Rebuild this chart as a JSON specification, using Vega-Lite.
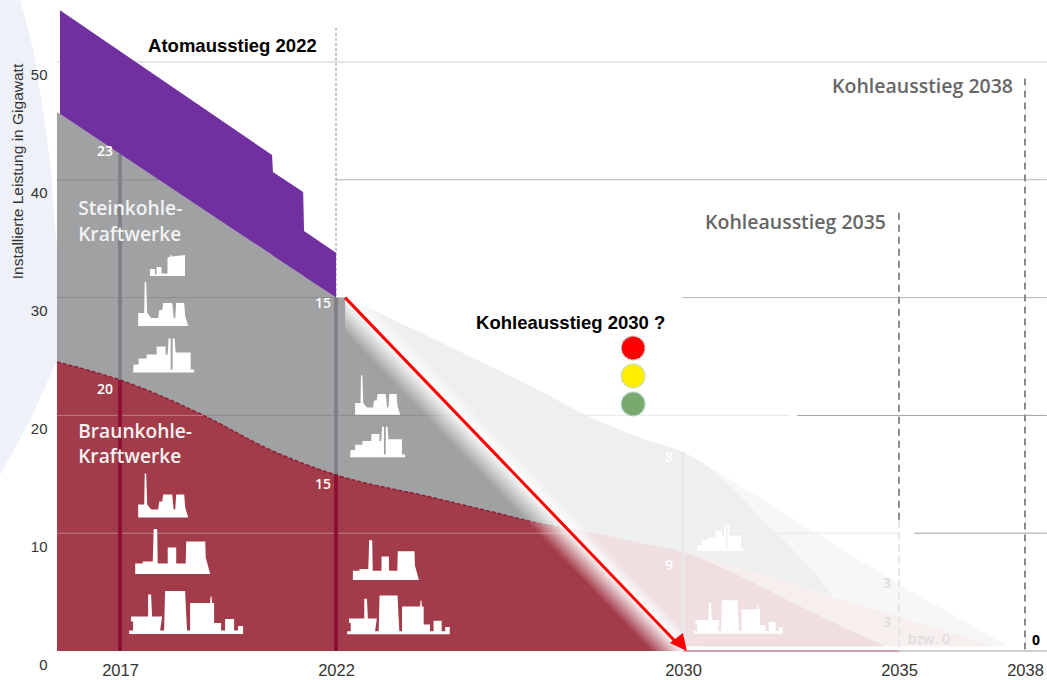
{
"$schema":"https://vega.github.io/schema/vega-lite/v6.json",
"width":1047,"height":680,"autosize":{"type":"none"},"padding":0,"background":"#ffffff",
"config":{"view":{"stroke":null}},
"resolve":{"scale":{"color":"independent","fill":"independent"}},
"datasets":{
"red":[{"yr":2015.54,"gw":24.53},{"yr":2017,"gw":23},{"yr":2019.01,"gw":19.86},{"yr":2020.4,"gw":17.2},{"yr":2022,"gw":14.94},{"yr":2024.17,"gw":13.07},{"yr":2025.71,"gw":11.71},{"yr":2026.86,"gw":10.7},{"yr":2027.3,"gw":10.44},{"yr":2030.05,"gw":0}],
"square":[{"yr":2022.21,"gw":30,"gw2":0},{"yr":2030.05,"gw":30,"gw2":0}]
},
"data":{"values":[{}]},
"encoding":{
"x":{"field":"yr","type":"quantitative","title":null,"scale":{"domain":[2014.22,2017,2022,2030,2035,2038,2038.524],"range":[0,120,336,683,899,1025,1047],"clamp":false,"nice":false,"zero":false},
"axis":{"zindex":1,"values":[2017,2022,2030,2035,2038],"format":"d","grid":false,"ticks":false,"domain":false,"offset":-20,"labelPadding":2,"labelFont":"Liberation Sans","labelFontSize":16.5,"labelColor":"#333333","labelOverlap":false,"labelFlush":false,"labelBound":false}},
"y":{"field":"gw","type":"quantitative","scale":{"domain":[-2.46,55.26],"range":[680,0],"nice":false,"zero":false},
"axis":{"zindex":1,"values":[0,10,20,30,40,50],"format":"d","grid":false,"ticks":false,"domain":false,"offset":-47,"labelPadding":0,"labelOffset":13,"labelFont":"Liberation Sans","labelFontSize":15,"labelColor":"#333333","labelOverlap":false,"labelBound":false,"labelFlush":false,
"title":"Installierte Leistung in Gigawatt","titleFont":"Liberation Sans","titleFontSize":15.5,"titleFontWeight":"normal","titleColor":"#333333","titleX":-30,"titleY":171,"titleAngle":-90,"titleAlign":"center","titleBaseline":"middle"}}
},
"layer":[
{"data":{"values":[{"gw":55.26,"yr":2014.69,"yr2":2014.22},{"gw":51.02,"yr":2014.99,"yr2":2014.22},{"gw":45.9,"yr":2015.22,"yr2":2014.22},{"gw":40.8,"yr":2015.4,"yr2":2014.22},{"gw":34,"yr":2015.54,"yr2":2014.22},{"gw":24.7,"yr":2015.54,"yr2":2014.22},{"gw":19.6,"yr":2014.92,"yr2":2014.22},{"gw":14.94,"yr":2014.22,"yr2":2014.22}]},
"mark":{"type":"area","orient":"horizontal","color":"#eef1f7"},"encoding":{"x2":{"field":"yr2"}}},
{"data":{"values":[{"yr":2015.54,"gw":45.75},{"yr":2022,"gw":30},{"yr":2022.21,"gw":30},{"yr":2030.05,"gw":0}]},"mark":{"type":"area","color":"#a0a1a3"},"encoding":{"y2":{"datum":0}}},
{"data":{"name":"red"},"mark":{"type":"area","color":"#a33c4a","interpolate":"monotone"},"encoding":{"y2":{"datum":0}}},
{"data":{"values":[{"gw":40,"yr":2015.54,"yr2":2017.9,"tone":"onGray"},{"gw":30,"yr":2015.54,"yr2":2022,"tone":"onGray"},{"gw":20,"yr":2015.54,"yr2":2019.01,"tone":"onRed"},{"gw":20,"yr":2019.01,"yr2":2027,"tone":"onGray"},{"gw":10,"yr":2015.54,"yr2":2030,"tone":"onRed"}]},
"mark":{"type":"rule","strokeWidth":1},"encoding":{"x2":{"field":"yr2"},"color":{"field":"tone","type":"nominal","legend":null,"scale":{"domain":["onGray","onRed"],"range":["#8a8b8d","#bb7d87"]}}}},
{"data":{"values":[{"yr":2017,"gw":23,"gw2":42.2,"tone":"g"},{"yr":2022,"gw":15,"gw2":30,"tone":"g"},{"yr":2017,"gw":0,"gw2":23,"tone":"r"},{"yr":2022,"gw":0,"gw2":15,"tone":"r"}]},
"mark":{"type":"rule","strokeWidth":4},"encoding":{"y2":{"field":"gw2"},"color":{"field":"tone","type":"nominal","legend":null,"scale":{"domain":["g","r"],"range":["#808184","#8f1134"]}}}},
{"data":{"name":"red"},"transform":[{"filter":"datum.yr<2027.4"}],"mark":{"type":"line","color":"#8b1f35","strokeWidth":1.5,"strokeDash":[4,2],"interpolate":"monotone"}},
{"data":{"name":"square"},"mark":{"type":"area","color":{"gradient":"linear","x1":0,"y1":1,"x2":1,"y2":0,"stops":[{"offset":0,"color":"rgba(255,255,255,0)"},{"offset":0.45,"color":"rgba(255,255,255,0)"},{"offset":0.5,"color":"rgba(255,255,255,1)"},{"offset":1,"color":"rgba(255,255,255,1)"}]}},"encoding":{"y2":{"field":"gw2"}}},
{"data":{"values":[{"yr":2030.46,"gw":15.96},{"yr":2035.02,"gw":5.6},{"yr":2037.57,"gw":0.5}]},"mark":{"type":"area","color":"#f7f7f7"},"encoding":{"y2":{"datum":0.4}}},
{"data":{"values":[{"yr":2030,"gw":8.4},{"yr":2031.78,"gw":6.62},{"yr":2033.47,"gw":4.58},{"yr":2035.02,"gw":2.89},{"yr":2037.2,"gw":0.5}]},"mark":{"type":"area","color":"#f7eeee","interpolate":"monotone"},"encoding":{"y2":{"datum":0.4}}},
{"data":{"values":[{"yr":2022.21,"gw":30,"gw2":30},{"yr":2024.93,"gw":25.3,"gw2":19.6},{"yr":2027.23,"gw":21.05,"gw2":10.8},{"yr":2027.28,"gw":20.95,"gw2":10.53},{"yr":2029.17,"gw":17.9,"gw2":9.08},{"yr":2030,"gw":16.9,"gw2":8.4},{"yr":2030.46,"gw":15.96,"gw2":7.9},{"yr":2031.02,"gw":14.26,"gw2":7.3},{"yr":2031.78,"gw":11.37,"gw2":6.62},{"yr":2032.55,"gw":8.57,"gw2":5.7},{"yr":2033.33,"gw":5.35,"gw2":4.75},{"yr":2033.47,"gw":4.58,"gw2":4.58}]},"mark":{"type":"area","color":"#eef0ef","interpolate":"monotone"},"encoding":{"y2":{"field":"gw2"}}},
{"data":{"values":[{"yr":2027.28,"gw":10.53,"gw2":10.53},{"yr":2029.17,"gw":9.08,"gw2":3.37},{"yr":2030,"gw":8.4,"gw2":0.4},{"yr":2031.02,"gw":6.88,"gw2":0.4},{"yr":2032.55,"gw":4.07,"gw2":0.4},{"yr":2033.7,"gw":2.04,"gw2":0.4},{"yr":2034.63,"gw":0.5,"gw2":0.4}]},"mark":{"type":"area","color":"#efdfe1","interpolate":"monotone"},"encoding":{"y2":{"field":"gw2"}}},
{"data":{"name":"square"},"mark":{"type":"area","color":{"gradient":"linear","x1":0,"y1":1,"x2":1,"y2":0,"stops":[{"offset":0,"color":"rgba(255,255,255,0)"},{"offset":0.499,"color":"rgba(255,255,255,0)"},{"offset":0.5,"color":"rgba(255,255,255,1)"},{"offset":0.53,"color":"rgba(255,255,255,0)"},{"offset":1,"color":"rgba(255,255,255,0)"}]}},"encoding":{"y2":{"field":"gw2"}}},
{"data":{"values":[{"gw":50,"yr":2015.54,"yr2":2038.52,"tone":"top"},{"gw":40,"yr":2022,"yr2":2038.52,"tone":"mid"},{"gw":30,"yr":2029.98,"yr2":2038.52,"tone":"mid"},{"gw":20,"yr":2032.64,"yr2":2038.52,"tone":"low"},{"gw":10,"yr":2035.37,"yr2":2038.52,"tone":"low"},{"gw":20,"yr":2027.2,"yr2":2032.48,"tone":"faint"},{"gw":10,"yr":2028.6,"yr2":2035.02,"tone":"faint"},{"gw":0,"yr":2030,"yr2":2035,"tone":"base"},{"gw":0,"yr":2035,"yr2":2038.52,"tone":"low"}]},
"mark":{"type":"rule","strokeWidth":1},"encoding":{"x2":{"field":"yr2"},"color":{"field":"tone","type":"nominal","legend":null,"scale":{"domain":["top","mid","low","faint","base"],"range":["#cfcfcf","#b5b5b5","#a0a0a0","#e9e9e9","#a5475a"]}}}},
{"data":{"values":[{"yr":2022,"gw":52.9,"gw2":30}]},"mark":{"type":"rule","strokeWidth":1,"color":"#8a8a8a","strokeDash":[3,2]},"encoding":{"y2":{"field":"gw2"}}},
{"data":{"values":[{"yr":2030,"gw":16.9,"gw2":0}]},"mark":{"type":"rule","strokeWidth":3,"color":"#e8e9e9"},"encoding":{"y2":{"field":"gw2"}}},
{"data":{"values":[{"yr":2035,"gw":37.2,"gw2":11.1},{"yr":2038,"gw":48.6,"gw2":0}]},"mark":{"type":"rule","strokeWidth":2,"color":"#8a8a8a","strokeDash":[7,5]},"encoding":{"y2":{"field":"gw2"}}},
{"data":{"values":[{"yr":2035,"gw":11.1,"gw2":0}]},"mark":{"type":"rule","strokeWidth":2,"color":"#e6e6e6","strokeDash":[7,5]},"encoding":{"y2":{"field":"gw2"}}},
{"data":{"values":[{"yr":2015.61,"gw":54.4,"gw2":45.58},{"yr":2020.52,"gw":42.1,"gw2":33.61},{"yr":2020.54,"gw":40.66,"gw2":33.56},{"yr":2021.24,"gw":38.96,"gw2":31.86},{"yr":2021.26,"gw":35.65,"gw2":31.8},{"yr":2022,"gw":33.8,"gw2":30}]},"mark":{"type":"area","color":"#7030a0"},"encoding":{"y2":{"field":"gw2"}}},
{"data":{"values":[{"yr":2018.1,"gw":32.72}]},"mark":{"type":"point","filled":true,"opacity":1,"color":"#ffffff","size":4,"shape":"M-17.5 10.5L-17.5 3.5L-12.5 3.5L-12.5 9L-11 9L-11 1.5L-6 1.5L-6 8L0 8L0 -8L3 -9L3 -10.5L4 -10.5L4 -9L17.5 -10.5L17.5 10.5Z"}},
{"data":{"values":[{"yr":2018.0,"gw":29.46},{"yr":2018.0,"gw":13.2}]},"mark":{"type":"point","filled":true,"opacity":1,"color":"#ffffff","size":4,"shape":"M-25 22L-25 9L-19 9L-18.5 -22L-17 -22L-16 9L-12 14L-5 14L-4 6L-1 6L0 -1L9 -1L10.5 14L12 14L13 -1L21 -1L22 12L25 22Z"}},
{"data":{"values":[{"yr":2022.96,"gw":21.73}]},"mark":{"type":"point","filled":true,"opacity":1,"color":"#ffffff","size":3.24,"shape":"M-25 22L-25 9L-19 9L-18.5 -22L-17 -22L-16 9L-12 14L-5 14L-4 6L-1 6L0 -1L9 -1L10.5 14L12 14L13 -1L21 -1L22 12L25 22Z"}},
{"data":{"values":[{"yr":2018.01,"gw":25.08}]},"mark":{"type":"point","filled":true,"opacity":1,"color":"#ffffff","size":4,"shape":"M-30.5 17L-30 9L-25 9L-25 3L-17 3L-17 -1L-7 -1L-7 -9L2 -9L2 -1L4 -1L5 -17L7 -17L7 14L9 14L9 -17L11 -17L12 -3L27 -3L27 14L30.5 14L30.5 17Z"}},
{"data":{"values":[{"yr":2022.96,"gw":17.74}]},"mark":{"type":"point","filled":true,"opacity":1,"color":"#ffffff","size":3.24,"shape":"M-30.5 17L-30 9L-25 9L-25 3L-17 3L-17 -1L-7 -1L-7 -9L2 -9L2 -1L4 -1L5 -17L7 -17L7 14L9 14L9 -17L11 -17L12 -3L27 -3L27 14L30.5 14L30.5 17Z"}},
{"data":{"values":[{"yr":2030.87,"gw":9.59}]},"mark":{"type":"point","filled":true,"opacity":1,"color":"#ffffff","size":2.31,"shape":"M-30.5 17L-30 9L-25 9L-25 3L-17 3L-17 -1L-7 -1L-7 -9L2 -9L2 -1L4 -1L5 -17L7 -17L7 14L9 14L9 -17L11 -17L12 -3L27 -3L27 14L30.5 14L30.5 17Z"}},
{"data":{"values":[{"yr":2018.22,"gw":8.36}]},"mark":{"type":"point","filled":true,"opacity":1,"color":"#ffffff","size":4,"shape":"M-37.5 21.5L-37.5 11L-30 11L-30 9L-20 9L-19 -23.5L-15.5 -23.5L-15 11L-5 11L-5 -5L3.5 -5L3.5 11L13 11L13.5 -11L32.5 -11L33 5L37.5 21.5Z"}},
{"data":{"values":[{"yr":2023.15,"gw":7.64}]},"mark":{"type":"point","filled":true,"opacity":1,"color":"#ffffff","size":3.1,"shape":"M-37.5 21.5L-37.5 11L-30 11L-30 9L-20 9L-19 -23.5L-15.5 -23.5L-15 11L-5 11L-5 -5L3.5 -5L3.5 11L13 11L13.5 -11L32.5 -11L33 5L37.5 21.5Z"}},
{"data":{"values":[{"yr":2018.53,"gw":3.27}]},"mark":{"type":"point","filled":true,"opacity":1,"color":"#ffffff","size":4,"shape":"M-57 21.5L-57 18L-53 18L-53 9L-55 9L-55 4L-38 4L-38 -18L-35 -18L-34 4L-24 4L-26 18L-22 18L-21 -21.5L-1 -21.5L0 0L1 18L4 18L4 -9.5L24 -9.5L24.5 -16L25.5 -16L26 -9.5L28 -9.5L28 10.5L35 10.5L35 18L39 18L39 6.5L48 6.5L48 18L52 18L52 13.5L57 13.5L57 21.5Z"}},
{"data":{"values":[{"yr":2023.44,"gw":3.06}]},"mark":{"type":"point","filled":true,"opacity":1,"color":"#ffffff","size":3.24,"shape":"M-57 21.5L-57 18L-53 18L-53 9L-55 9L-55 4L-38 4L-38 -18L-35 -18L-34 4L-24 4L-26 18L-22 18L-21 -21.5L-1 -21.5L0 0L1 18L4 18L4 -9.5L24 -9.5L24.5 -16L25.5 -16L26 -9.5L28 -9.5L28 10.5L35 10.5L35 18L39 18L39 6.5L48 6.5L48 18L52 18L52 13.5L57 13.5L57 21.5Z"}},
{"data":{"values":[{"yr":2031.28,"gw":2.89}]},"mark":{"type":"point","filled":true,"opacity":1,"color":"#ffffff","size":2.43,"shape":"M-57 21.5L-57 18L-53 18L-53 9L-55 9L-55 4L-38 4L-38 -18L-35 -18L-34 4L-24 4L-26 18L-22 18L-21 -21.5L-1 -21.5L0 0L1 18L4 18L4 -9.5L24 -9.5L24.5 -16L25.5 -16L26 -9.5L28 -9.5L28 10.5L35 10.5L35 18L39 18L39 6.5L48 6.5L48 18L52 18L52 13.5L57 13.5L57 21.5Z"}},
{"data":{"values":[{"yr":2022.21,"gw":30},{"yr":2029.88,"gw":0.6}]},"mark":{"type":"line","color":"#ff0000","strokeWidth":3}},
{"data":{"values":[{"yr":2030.09,"gw":0}]},"mark":{"type":"point","filled":true,"opacity":1,"color":"#ff0000","size":4,"shape":"M0 0L-17 -8L-4 -18Z"}},
{"data":{"values":[{"yr":2028.85,"gw":25.72,"light":"rot"},{"yr":2028.85,"gw":23.34,"light":"gelb"},{"yr":2028.85,"gw":20.97,"light":"gruen"}]},"mark":{"type":"point","filled":true,"opacity":1,"size":570,"stroke":"#bcdcd8","strokeWidth":1.5,"strokeDash":[2,1]},"encoding":{"color":{"field":"light","type":"nominal","legend":null,"scale":{"domain":["rot","gelb","gruen"],"range":["#ff0000","#ffee00","#7aa96d"]}}}},
{"data":{"values":[{"yr":2017.65,"gw":51.36,"t":"Atomausstieg 2022"},{"yr":2025.23,"gw":27.84,"t":"Kohleausstieg 2030 ?"}]},"mark":{"type":"text","align":"left","baseline":"middle","font":"Liberation Sans","fontWeight":"bold","fontSize":18.5,"color":"#000000"},"encoding":{"text":{"field":"t"}}},
{"data":{"values":[{"yr":2033.45,"gw":47.88,"t":"Kohleausstieg 2038"},{"yr":2030.51,"gw":36.33,"t":"Kohleausstieg 2035"}]},"mark":{"type":"text","align":"left","baseline":"middle","font":"Open Sans","fontWeight":600,"fontSize":19.5,"color":"#666666"},"encoding":{"text":{"field":"t"}}},
{"data":{"values":[{"yr":2016.03,"gw":37.5,"t":"Steinkohle-"},{"yr":2016.03,"gw":35.3,"t":"Kraftwerke"},{"yr":2016.03,"gw":18.6,"t":"Braunkohle-"},{"yr":2016.03,"gw":16.47,"t":"Kraftwerke"}]},"mark":{"type":"text","align":"left","baseline":"middle","font":"Open Sans","fontWeight":600,"fontSize":19.2,"color":"#f2f2f2"},"encoding":{"text":{"field":"t"}}},
{"data":{"values":[{"yr":2016.65,"gw":42.36,"t":"23"},{"yr":2021.7,"gw":29.46,"t":"15"},{"yr":2016.65,"gw":22.16,"t":"20"},{"yr":2021.7,"gw":14.09,"t":"15"},{"yr":2029.68,"gw":16.38,"t":"8"},{"yr":2029.68,"gw":7.2,"t":"9"}]},"mark":{"type":"text","align":"center","baseline":"middle","font":"Open Sans","fontWeight":600,"fontSize":14,"color":"#ffffff"},"encoding":{"text":{"field":"t"}}},
{"data":{"values":[{"yr":2034.72,"gw":5.69,"t":"3"},{"yr":2034.72,"gw":2.38,"t":"3"},{"yr":2035.71,"gw":0.93,"t":"bzw. 0"}]},"mark":{"type":"text","align":"center","baseline":"middle","font":"Open Sans","fontWeight":600,"fontSize":14,"color":"#dedede"},"encoding":{"text":{"field":"t"}}},
{"data":{"values":[{"yr":2038.26,"gw":0.85,"t":"0"}]},"mark":{"type":"text","align":"center","baseline":"middle","font":"Open Sans","fontWeight":700,"fontSize":14,"color":"#000000"},"encoding":{"text":{"field":"t"}}}
]
}
